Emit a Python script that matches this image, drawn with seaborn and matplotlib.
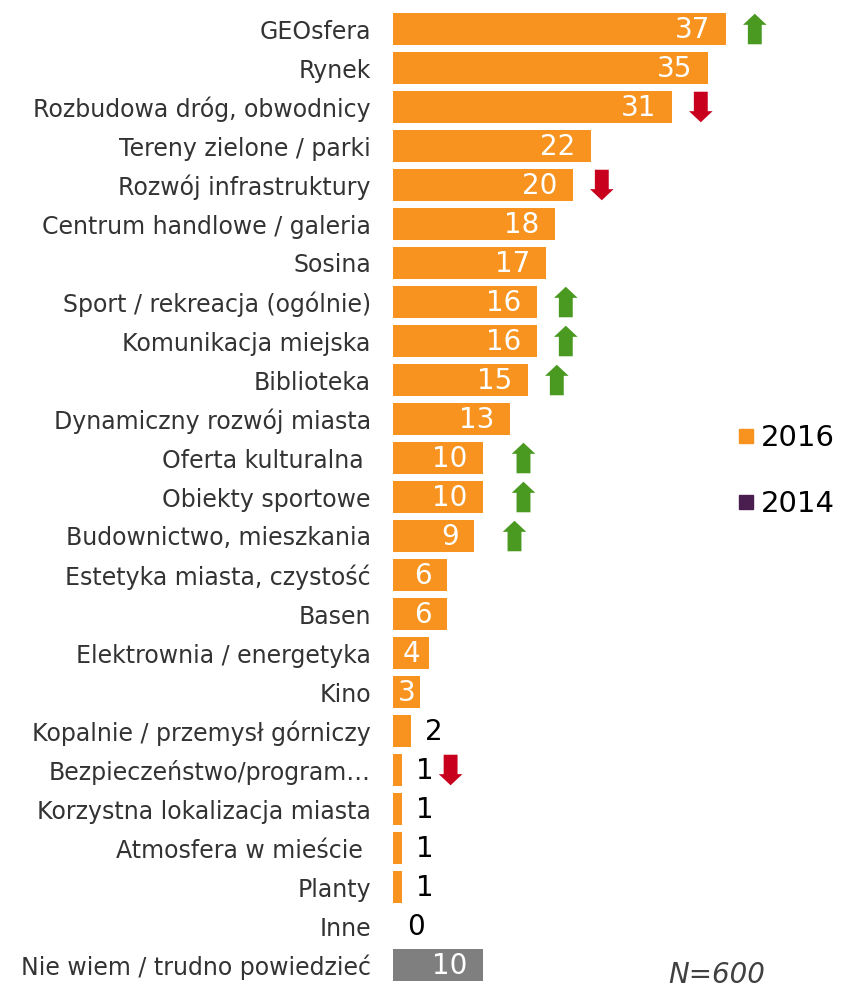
import numpy as np
import pandas as pd
import matplotlib.pyplot as plt
import matplotlib.transforms as mtransforms
from matplotlib.lines import Line2D
import seaborn as sns

categories = ["GEOsfera", "Rynek", "Rozbudowa dróg, obwodnicy", "Tereny zielone / parki",
              "Rozwój infrastruktury", "Centrum handlowe / galeria", "Sosina",
              "Sport / rekreacja (ogólnie)", "Komunikacja miejska", "Biblioteka",
              "Dynamiczny rozwój miasta", "Oferta kulturalna ", "Obiekty sportowe",
              "Budownictwo, mieszkania", "Estetyka miasta, czystość", "Basen",
              "Elektrownia / energetyka", "Kino", "Kopalnie / przemysł górniczy",
              "Bezpieczeństwo/program…", "Korzystna lokalizacja miasta",
              "Atmosfera w mieście ", "Planty", "Inne", "Nie wiem / trudno powiedzieć"]
values = [37, 35, 31, 22, 20, 18, 17, 16, 16, 15, 13, 10, 10, 9, 6, 6, 4, 3, 2, 1, 1, 1, 1, 0, 10]
# change vs 2014: 1 = up, -1 = down, 0 = none
trend = [1, 0, -1, 0, -1, 0, 0, 1, 1, 1, 0, 1, 1, 1, 0, 0, 0, 0, 0, -1, 0, 0, 0, 0, 0]

ORANGE = "#F7931E"
GRAY = "#7F7F7F"
PURPLE = "#4B1E50"
GREEN = "#4A9A22"
RED = "#C8001E"

df = pd.DataFrame({"cat": categories, "val": values})
colors = [ORANGE] * (len(categories) - 1) + [GRAY]

plt.rcParams["font.family"] = ["DejaVu Sans"]
fig = plt.figure(figsize=(8.43, 9.89), dpi=100)
ax = fig.add_axes([393 / 843, 1 - 984.5 / 989, 450 / 843, 975 / 989])

sns.barplot(data=df, y="cat", x="val", hue="cat", palette=colors, legend=False,
            orient="h", width=0.82, ax=ax, saturation=1)
ax.set_xlim(0, 50)
ax.set_ylim(len(categories) - 0.5, -0.5)
ax.set_xlabel("")
ax.set_ylabel("")
ax.set_xticks([])
for s in ax.spines.values():
    s.set_visible(False)
ax.tick_params(axis="y", length=0, pad=16, labelsize=17, labelcolor="#333333")

for i, v in enumerate(values):
    if v >= 6:
        ax.annotate(str(v), (v, i), xytext=(-11, -1), textcoords="offset points",
                    ha="right", va="center", color="white", fontsize=20)
    elif v >= 3:
        ax.annotate(str(v), (v / 2, i), xytext=(0, -1), textcoords="offset points",
                    ha="center", va="center", color="white", fontsize=20)
    else:
        ax.annotate(str(v), (v, i), xytext=(10, -1), textcoords="offset points",
                    ha="left", va="center", color="black", fontsize=20)

up = mtransforms.offset_copy(ax.transData, fig=fig, x=0, y=11, units="points")
down = mtransforms.offset_copy(ax.transData, fig=fig, x=0, y=-11, units="points")
for i, (v, t) in enumerate(zip(values, trend)):
    if t == 0:
        continue
    if v > 10:
        x = v + 3.2
    elif v > 2:
        x = v + 4.5
    else:
        x = v + 5.4
    if t > 0:
        a, b = up, down
        c = GREEN
    else:
        a, b = down, up
        c = RED
    ax.annotate("", xy=(x, i), xycoords=a, xytext=(x, i), textcoords=b,
                arrowprops=dict(arrowstyle="simple,head_width=1.7,head_length=0.8,tail_width=1.0",
                                color=c, lw=0, shrinkA=0, shrinkB=0))

handles = [Line2D([], [], marker="s", color=ORANGE, ls="", markersize=10),
           Line2D([], [], marker="s", color=PURPLE, ls="", markersize=10)]
fig.legend(handles, ["2016", "2014"], loc="center left", bbox_to_anchor=(738 / 843, 1 - 471 / 989),
           frameon=False, fontsize=21, handlelength=0.55, handletextpad=0.25, labelspacing=1.3,
           borderaxespad=0, borderpad=0)

fig.text(765 / 843, 1 - 975 / 989, "N=600", ha="right", va="center", fontsize=20,
         style="italic", color="#404040")

fig.savefig("out.png", dpi=100)
